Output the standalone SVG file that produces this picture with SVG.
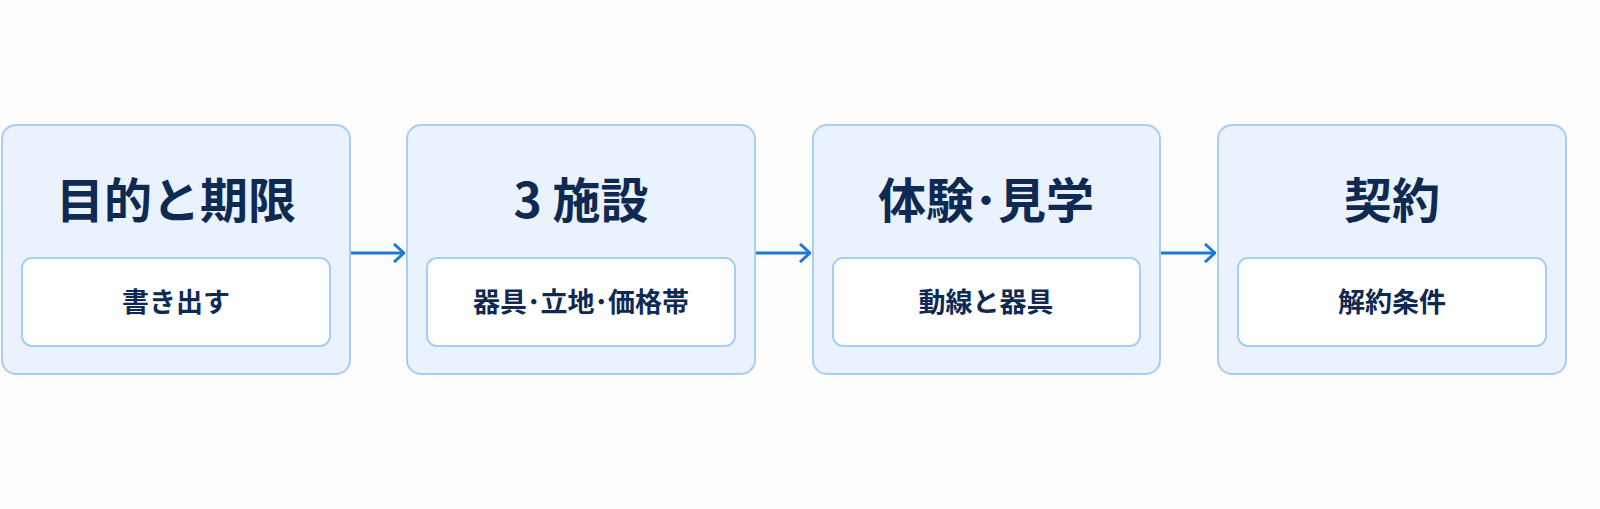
<svg xmlns="http://www.w3.org/2000/svg" width="1600" height="509" viewBox="0 0 1600 509">
<style>
.outer{fill:#e9f2fd;stroke:#a9cdf3;stroke-width:2}
.inner{fill:#ffffff;stroke:#a9cdf3;stroke-width:2}
.t{font-family:"Noto Sans CJK JP","Noto Sans",sans-serif;font-weight:700;fill:#0f2a52;text-anchor:middle}
.h{font-size:48px}
.s{font-size:27px}
.c{stroke:#1f78d6;stroke-width:3;fill:none}
</style>
<defs><marker id="a" viewBox="0 0 12 20" refX="11" refY="10" markerWidth="12" markerHeight="20" markerUnits="userSpaceOnUse" orient="auto"><path d="M1,1 L11,10 L1,19" fill="none" stroke="#1f78d6" stroke-width="3"/></marker></defs>
<rect width="1600" height="509" fill="#fdfdfd"/>
<g id="n1"><rect class="outer" x="2" y="125" width="348" height="249" rx="14"/><text class="t h" x="176" y="218">目的と期限</text><rect class="inner" x="22" y="258" width="308" height="88" rx="10"/><text class="t s" x="176" y="312">書き出す</text></g>
<g id="n2"><rect class="outer" x="407" y="125" width="348" height="249" rx="14"/><text class="t h" x="581" y="218">3 施設</text><rect class="inner" x="427" y="258" width="308" height="88" rx="10"/><text class="t s" x="581" y="312">器具･立地･価格帯</text></g>
<g id="n3"><rect class="outer" x="813" y="125" width="347" height="249" rx="14"/><text class="t h" x="986" y="218">体験･見学</text><rect class="inner" x="833" y="258" width="307" height="88" rx="10"/><text class="t s" x="986" y="312">動線と器具</text></g>
<g id="n4"><rect class="outer" x="1218" y="125" width="348" height="249" rx="14"/><text class="t h" x="1392" y="218">契約</text><rect class="inner" x="1238" y="258" width="308" height="88" rx="10"/><text class="t s" x="1392" y="312">解約条件</text></g>
<g id="connectors">
<path class="c" d="M351 253 H404" marker-end="url(#a)"/>
<path class="c" d="M756 253 H810" marker-end="url(#a)"/>
<path class="c" d="M1161 253 H1215" marker-end="url(#a)"/>
</g>
</svg>
